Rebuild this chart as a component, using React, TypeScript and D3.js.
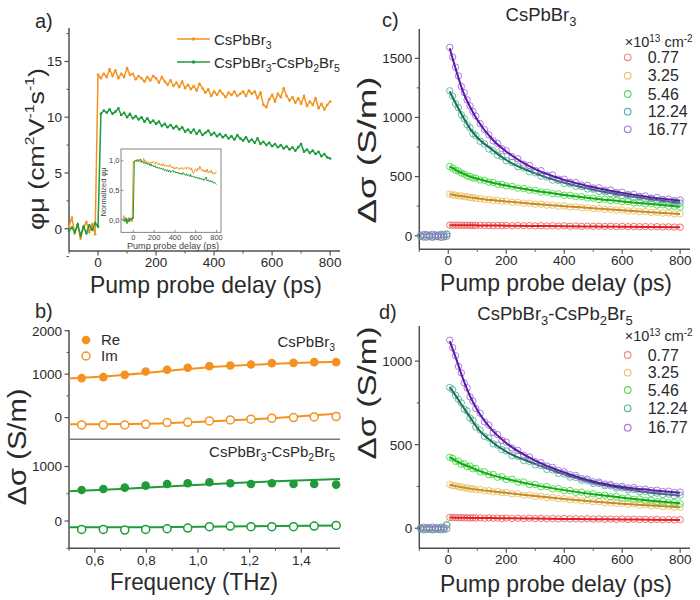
import React from "react";
import * as d3 from "d3";

const FONT = "'Liberation Sans', Arial, Helvetica, sans-serif";
const AX = "#505050";
const TXT = "#2a2a2a";

// ---------------- Panel a data ----------------
const aTimes = d3.range(-100, 801, 10);
const aOrange = [
  0.2, 1.0, -0.4, 0.3, -0.9, 0.1, 0.6, -0.3, 0.4, -0.5,
  13.8, 13.5, 13.9, 13.6, 14.3, 13.7, 14.2, 13.5, 13.9, 13.6,
  14.4, 13.8, 13.9, 13.4, 13.7, 13.5, 13.2, 13.6, 13.3, 13.7,
  13.5, 13.1, 13.6, 13.2, 12.9, 13.3, 12.8, 13.1, 12.7, 13.2,
  12.6, 12.9, 12.5, 12.8, 12.4, 13.0, 12.6, 12.2, 12.5, 11.9,
  12.3, 12.0, 12.4, 12.1, 11.8, 12.2, 12.0, 12.3, 11.9, 12.1,
  12.3, 11.9, 12.4, 12.1, 12.3, 11.7, 12.2, 11.1, 10.9, 11.6,
  12.0, 11.4, 12.1, 11.8, 12.6, 11.9, 11.5, 11.8, 11.3, 11.7,
  11.2, 11.9, 11.0, 11.4, 11.1, 11.7, 10.8, 11.2, 10.7, 11.1,
  11.4,
];
const aGreen = [
  -0.2, 0.1, -0.3, 0.4, -0.6, 0.2, -0.4, 0.3, -0.1, 0.5, 0.2,
  10.3, 10.6, 10.4, 10.7, 10.3, 10.5, 10.8, 10.2, 10.4,
  10.0, 10.3, 9.9, 10.1, 9.8, 10.0, 9.6, 9.9, 9.5, 9.7,
  9.4, 9.6, 9.2, 9.4, 9.1, 9.3, 9.0, 9.2, 8.9, 9.1,
  8.7, 8.9, 8.6, 8.9, 8.5, 8.8, 8.4, 8.6, 8.8, 8.4,
  8.6, 8.3, 8.5, 8.2, 8.4, 8.1, 8.3, 8.0, 8.4, 8.1,
  7.9, 8.2, 7.8, 8.0, 7.7, 8.1, 7.6, 7.8, 7.5, 7.7,
  7.4, 7.6, 7.3, 7.5, 7.2, 7.4, 7.1, 7.3, 7.0, 7.3,
  7.6, 6.9, 7.1, 6.8, 7.0, 6.7, 6.9, 6.5, 6.7, 6.4,
  6.3,
];
const aLegend = ["CsPbBr3", "CsPbBr3-CsPb2Br5"];

// ---------------- Panel b data ----------------
const bFreq = [0.549, 0.633, 0.716, 0.797, 0.88, 0.96, 1.044, 1.125, 1.205, 1.286, 1.37, 1.45, 1.535];
const bReBr3 = [908, 931, 984, 1060, 1100, 1146, 1184, 1198, 1221, 1253, 1260, 1276, 1276];
const bImBr3 = [-169, -169, -169, -154, -115, -108, -77, -54, -38, -15, 0, 15, 23];
const bReComp = [570, 589, 613, 650, 681, 693, 712, 693, 681, 693, 681, 681, 669];
const bImComp = [-153, -153, -166, -153, -141, -129, -104, -92, -104, -104, -104, -92, -80];
const bFitFreq = [0.5, 0.7, 0.9, 1.1, 1.3, 1.55];
const bFitReBr3 = [900, 975, 1085, 1180, 1240, 1285];
const bFitImBr3 = [-155, -150, -125, -75, -10, 95];
const bFitReComp = [545, 590, 640, 690, 730, 770];
const bFitImComp = [-115, -115, -110, -100, -92, -80];

// ---------------- Panels c, d data ----------------
const fluences = ["0.77", "3.25", "5.46", "12.24", "16.77"];
const preTimes = [-95, -85, -75, -65, -55, -45, -35, -25, -15, -5];
const postTimes = [5, 15, 25, 35, 45, 55, 65, 75, 85, 95, 110, 125, 140, 155, 170, 185,
  200, 220, 240, 260, 280, 300, 320, 340, 360, 380, 400, 420, 440, 460, 480, 500, 520, 540, 560, 580,
  600, 620, 640, 660, 680, 700, 720, 740, 760, 780, 800];
const fitTimes = [5, 25, 50, 75, 100, 150, 200, 300, 400, 500, 600, 700, 800];

const cPrePurple = [-6, 10, -12, 4, 12, -9, 6, -14, 8, -4];
const cPreOther = [5, -8, 9, -3, -10, 7, -5, 11, -7, 15];
const dPrePurple = [-4, 6, -8, 3, 7, -6, 2, -9, 5, -3];
const dPreOther = [3, -6, 5, -2, -7, 4, -4, 6, -5, 22];

const c077 = [90, 88, 90, 88, 89, 87, 89, 87, 88, 86, 88, 86, 87, 85, 87, 85,
  86, 84, 86, 84, 85, 83, 84, 82, 84, 81, 83, 80, 82, 79, 81, 79, 80, 78, 80, 77,
  79, 76, 78, 76, 77, 75, 76, 74, 75, 73, 72];
const c325 = [352, 344, 344, 336, 337, 329, 329, 322, 322, 315, 314, 306, 306, 298, 299, 291,
  292, 283, 283, 274, 274, 266, 266, 258, 258, 250, 251, 243, 244, 236, 237, 230, 230, 223, 223, 216,
  217, 210, 210, 203, 204, 197, 198, 191, 192, 185, 186];
const c546 = [586, 572, 553, 548, 530, 521, 505, 502, 488, 487, 471, 468, 453, 450, 435, 434,
  421, 417, 402, 399, 385, 383, 369, 368, 355, 354, 342, 342, 330, 330, 318, 318, 307, 308, 297, 298,
  287, 288, 277, 279, 268, 270, 259, 261, 249, 249, 240];
const c1224 = [1225, 1180, 1115, 1082, 1022, 990, 938, 912, 862, 846, 798, 776, 733, 718, 680, 668,
  634, 620, 584, 572, 540, 532, 503, 496, 470, 466, 442, 439, 418, 414, 395, 393, 374, 372, 356, 355,
  340, 338, 325, 326, 311, 312, 298, 300, 286, 288, 276];
const c1677 = [1592, 1510, 1425, 1350, 1262, 1210, 1148, 1098, 1050, 1012, 948, 897, 852, 802, 780, 735,
  718, 668, 650, 604, 594, 552, 550, 512, 514, 478, 478, 452, 450, 428, 426, 404, 405, 384, 386, 366,
  368, 349, 351, 333, 336, 319, 322, 307, 310, 297, 302];
const cFit077 = [89, 89, 88, 88, 87, 86, 85, 83, 80, 78, 76, 74, 72];
const cFit325 = [350, 342, 333, 324, 316, 301, 290, 268, 249, 232, 215, 199, 184];
const cFit546 = [584, 557, 526, 499, 481, 450, 424, 380, 345, 315, 290, 267, 244];
const cFit1224 = [1220, 1122, 1008, 905, 830, 730, 640, 527, 447, 389, 344, 308, 278];
const cFit1677 = [1585, 1415, 1225, 1090, 980, 820, 712, 562, 472, 410, 362, 324, 296];

const d077 = [65, 63, 64, 62, 64, 62, 63, 61, 63, 61, 62, 60, 62, 60, 61, 59,
  61, 59, 60, 58, 60, 58, 59, 57, 58, 56, 58, 56, 57, 55, 57, 55, 56, 54, 55, 53,
  55, 53, 54, 52, 53, 51, 53, 51, 52, 50, 51];
const d325 = [262, 255, 254, 247, 248, 241, 242, 235, 237, 230, 231, 224, 225, 218, 219, 213,
  214, 206, 206, 198, 199, 191, 191, 184, 184, 177, 177, 170, 171, 164, 165, 158, 159, 153, 154, 148,
  149, 143, 145, 138, 140, 134, 136, 129, 131, 125, 126];
const d546 = [424, 418, 400, 402, 383, 386, 368, 372, 356, 358, 338, 338, 320, 322, 305, 308,
  292, 293, 276, 277, 261, 262, 248, 250, 236, 238, 225, 226, 215, 216, 205, 206, 196, 198, 188, 190,
  180, 182, 173, 175, 166, 168, 159, 161, 153, 154, 147];
const d1224 = [842, 830, 796, 772, 750, 712, 702, 660, 645, 606, 588, 550, 540, 505, 498, 470,
  462, 434, 430, 405, 400, 380, 375, 352, 349, 328, 325, 306, 304, 287, 284, 268, 268, 254, 254, 240,
  241, 229, 231, 219, 220, 209, 210, 202, 204, 195, 197];
const d1677 = [1125, 1080, 1032, 968, 930, 870, 840, 786, 760, 716, 688, 636, 617, 574, 560, 526,
  515, 480, 466, 437, 426, 398, 392, 372, 364, 345, 338, 320, 316, 298, 294, 278, 276, 264, 262, 250,
  250, 241, 243, 233, 234, 226, 228, 220, 222, 214, 216];
const dFit077 = [64, 63, 63, 62, 62, 61, 60, 58, 56, 54, 53, 51, 50];
const dFit325 = [260, 252, 244, 237, 231, 221, 212, 193, 175, 160, 147, 136, 125];
const dFit546 = [426, 405, 383, 366, 348, 318, 296, 258, 228, 203, 183, 165, 149];
const dFit1224 = [845, 795, 728, 665, 600, 518, 458, 385, 322, 272, 238, 212, 195];
const dFit1677 = [1120, 1025, 898, 790, 708, 590, 510, 405, 334, 280, 247, 228, 213];

// styles (not data)
const circColors = ["#ec5a5e", "#e6bd5c", "#3fd83f", "#45b597", "#a163d6"];
const lineColors = ["#e0201e", "#c98a25", "#12a812", "#1e6e58", "#5a1aa6"];
const legColors = ["#ee8a8a", "#e2c681", "#66d466", "#5bb5a6", "#a77cd6"];
const ORANGE = "#f5921f";
const GREEN = "#1f9b3b";

// ---------------- helpers ----------------
function chem(s: string, fs: number) {
  const parts = s.split(/(\d+)/).filter((p) => p.length);
  const out: any[] = [];
  let shifted = false;
  parts.forEach((p, i) => {
    if (/^\d+$/.test(p)) {
      out.push(<tspan key={i} dy={fs * 0.28} fontSize={fs * 0.7}>{p}</tspan>);
      shifted = true;
    } else {
      out.push(<tspan key={i} dy={shifted ? -fs * 0.28 : 0}>{p}</tspan>);
      shifted = false;
    }
  });
  return out;
}

function LeftAxis({ scale, x, y0, y1, majors, minors, fmt, fs = 13.5, line = true }: any) {
  return (
    <g>
      {line && <line x1={x} x2={x} y1={y0} y2={y1} stroke={AX} strokeWidth={1.5} />}
      {majors.map((v: number, i: number) => (
        <line key={"M" + i} x1={x - 4.5} x2={x} y1={scale(v)} y2={scale(v)} stroke={AX} strokeWidth={1.2} />
      ))}
      {minors.map((v: number, i: number) => (
        <line key={"m" + i} x1={x - 2.5} x2={x} y1={scale(v)} y2={scale(v)} stroke={AX} strokeWidth={1} />
      ))}
      {majors.map((v: number, i: number) => (
        <text key={"t" + i} x={x - 7} y={scale(v)} dy="0.36em" textAnchor="end" fontSize={fs} fill={TXT}>
          {fmt(v)}
        </text>
      ))}
    </g>
  );
}

function BottomAxis({ scale, y, x0, x1, majors, minors, fmt, fs = 13.5, off = 16 }: any) {
  return (
    <g>
      <line x1={x0} x2={x1} y1={y} y2={y} stroke={AX} strokeWidth={1.5} />
      {majors.map((v: number, i: number) => (
        <line key={"M" + i} x1={scale(v)} x2={scale(v)} y1={y} y2={y + 4.5} stroke={AX} strokeWidth={1.2} />
      ))}
      {minors.map((v: number, i: number) => (
        <line key={"m" + i} x1={scale(v)} x2={scale(v)} y1={y} y2={y + 2.5} stroke={AX} strokeWidth={1} />
      ))}
      {majors.map((v: number, i: number) => (
        <text key={"t" + i} x={scale(v)} y={y + off} textAnchor="middle" fontSize={fs} fill={TXT}>
          {fmt(v)}
        </text>
      ))}
    </g>
  );
}

function YTitle({ cx, cy, fs, len, children }: any) {
  return (
    <text
      transform={`translate(${cx},${cy}) rotate(-90)`}
      textAnchor="middle"
      dominantBaseline="central"
      fontSize={fs}
      fill={TXT}
      textLength={len}
      lengthAdjust="spacingAndGlyphs"
    >
      {children}
    </text>
  );
}

function XTitle({ cx, y, fs, len, children }: any) {
  return (
    <text x={cx} y={y} textAnchor="middle" fontSize={fs} fill={TXT} textLength={len} lengthAdjust="spacingAndGlyphs">
      {children}
    </text>
  );
}

function DecayPanel({ xS, yS, series, fits, prePurple, preOther, keyP }: any) {
  const line = d3
    .line<number>()
    .x((_, i) => xS(fitTimes[i]))
    .y((d) => yS(d))
    .curve(d3.curveMonotoneX);
  return (
    <g>
      {series.map((s: number[], k: number) => (
        <g key={keyP + k}>
          {k >= 2 &&
            preTimes.map((t, i) => (
              <circle
                key={"p" + i}
                cx={xS(t)}
                cy={yS(k === 4 ? prePurple[i] : preOther[i] + (k === 2 ? -4 : 0))}
                r={3.2}
                fill="none"
                stroke={circColors[k]}
                strokeWidth={1}
                opacity={0.85}
              />
            ))}
          {s.map((v, i) => (
            <circle
              key={"s" + i}
              cx={xS(postTimes[i])}
              cy={yS(v)}
              r={3.2}
              fill="none"
              stroke={circColors[k]}
              strokeWidth={1}
              opacity={0.85}
            />
          ))}
          <path d={line(fits[k]) || ""} fill="none" stroke={lineColors[k]} strokeWidth={2} />
        </g>
      ))}
    </g>
  );
}

function FluenceLegend({ x, yTitle, ys }: any) {
  return (
    <g>
      <text x={x - 3} y={yTitle} fontSize={14.5} fill={TXT}>
        ×10<tspan dy={-5} fontSize={10}>13</tspan>
        <tspan dy={5}> cm</tspan>
        <tspan dy={-5} fontSize={10}>-2</tspan>
      </text>
      {fluences.map((f, i) => (
        <g key={f}>
          <circle cx={x} cy={ys[i]} r={3.3} fill="none" stroke={legColors[i]} strokeWidth={1.2} />
          <text x={x + 20} y={ys[i]} dy="0.36em" fontSize={16} fill={TXT}>
            {f}
          </text>
        </g>
      ))}
    </g>
  );
}

export default function App() {
  // ---- panel a scales
  const xA = d3.scaleLinear().domain([-100, 834]).range([69, 340]);
  const yA = d3.scaleLinear().domain([-2, 18]).range([251, 28]);
  const lineA = d3
    .line<number>()
    .x((_, i) => xA(aTimes[i]))
    .y((d) => yA(d));

  // inset
  const xI = d3.scaleLinear().domain([-118, 843]).range([121, 221]);
  const yI = d3.scaleLinear().domain([-0.21, 1.2]).range([232.3, 149]);
  const normOf = (arr: number[]) => {
    const vals = arr.filter((_, i) => aTimes[i] >= 10 && aTimes[i] <= 60);
    return d3.mean(vals) as number;
  };
  const nO = normOf(aOrange);
  const nG = normOf(aGreen);
  const lineI = (arr: number[], n: number) =>
    d3
      .line<number>()
      .x((_, i) => xI(aTimes[i]))
      .y((d) => yI(d / n))(arr) || "";

  // ---- panel b scales
  const xB = d3.scaleLinear().domain([0.5, 1.55]).range([69, 340]);
  const yBu = d3.scaleLinear().domain([-500, 2000]).range([439.3, 330.7]);
  const yBl = d3.scaleLinear().domain([-500, 1500]).range([548.3, 439.3]);
  const fitLine = (vals: number[], yS: any) =>
    d3
      .line<number>()
      .x((_, i) => xB(bFitFreq[i]))
      .y((d) => yS(d))
      .curve(d3.curveMonotoneX)(vals) || "";

  // ---- panel c/d scales
  const xC = d3.scaleLinear().domain([-100, 834]).range([419.3, 690]);
  const yC = d3.scaleLinear().domain([-115, 1745]).range([249.3, 29.3]);
  const yD = d3.scaleLinear().domain([-120, 1210]).range([548.3, 326]);

  const tFmt = (v: number) => String(v);
  const commaFmt = (v: number) => v.toFixed(1).replace(".", ",");

  return (
    <svg
      width={700}
      height={600}
      style={{ position: "absolute", left: 0, top: 0, background: "#fff", fontFamily: FONT }}
    >
      <rect x={0} y={0} width={700} height={600} fill="#fff" />

      {/* ================= Panel a ================= */}
      <text x={35} y={28} fontSize={20} fill={TXT}>a)</text>
      <LeftAxis scale={yA} x={69} y0={28} y1={251} majors={[0, 5, 10, 15]} minors={[-2.5, 2.5, 7.5, 12.5, 17.5]} fmt={tFmt} />
      <BottomAxis scale={xA} y={251} x0={69} x1={340} majors={[0, 200, 400, 600, 800]} minors={[-100, 100, 300, 500, 700]} fmt={tFmt} off={16} />
      <path d={lineA(aOrange) || ""} fill="none" stroke={ORANGE} strokeWidth={1.5} />
      {aOrange.map((v, i) => (
        <circle key={"ao" + i} cx={xA(aTimes[i])} cy={yA(v)} r={1.3} fill={ORANGE} />
      ))}
      <path d={lineA(aGreen) || ""} fill="none" stroke={GREEN} strokeWidth={1.5} />
      {aGreen.map((v, i) => (
        <circle key={"ag" + i} cx={xA(aTimes[i])} cy={yA(v)} r={1.3} fill={GREEN} />
      ))}
      {/* legend */}
      <line x1={177} x2={210} y1={39} y2={39} stroke={ORANGE} strokeWidth={1.5} />
      <circle cx={193.5} cy={39} r={1.8} fill={ORANGE} />
      <text x={214} y={44.5} fontSize={15} fill={TXT}>{chem(aLegend[0], 15)}</text>
      <line x1={177} x2={210} y1={62} y2={62} stroke={GREEN} strokeWidth={1.5} />
      <circle cx={193.5} cy={62} r={1.8} fill={GREEN} />
      <text x={214} y={67.5} fontSize={15} fill={TXT}>{chem(aLegend[1], 15)}</text>
      <YTitle cx={36} cy={149} fs={22} len={162}>
        φμ (cm<tspan dy={-7} fontSize={13}>2</tspan>
        <tspan dy={7}>V</tspan>
        <tspan dy={-7} fontSize={13}>-1</tspan>
        <tspan dy={7}>s</tspan>
        <tspan dy={-7} fontSize={13}>-1</tspan>
        <tspan dy={7}>)</tspan>
      </YTitle>
      <XTitle cx={206} y={292.5} fs={24} len={232}>Pump probe delay (ps)</XTitle>

      {/* inset */}
      <rect x={121} y={149} width={100} height={83.3} fill="#fff" stroke="#666" strokeWidth={0.8} />
      {[0, 200, 400, 600, 800].map((v) => (
        <g key={"ix" + v}>
          <line x1={xI(v)} x2={xI(v)} y1={232.3} y2={229.8} stroke="#666" strokeWidth={0.7} />
          <text x={xI(v)} y={240} textAnchor="middle" fontSize={7.5} fill="#444">{v}</text>
        </g>
      ))}
      {[0, 0.5, 1].map((v) => (
        <g key={"iy" + v}>
          <line x1={121} x2={123.5} y1={yI(v)} y2={yI(v)} stroke="#666" strokeWidth={0.7} />
          <text x={119.5} y={yI(v)} dy="0.35em" textAnchor="end" fontSize={7.5} fill="#444">{commaFmt(v)}</text>
        </g>
      ))}
      <path d={lineI(aOrange, nO)} fill="none" stroke={ORANGE} strokeWidth={1} />
      <path d={lineI(aGreen, nG)} fill="none" stroke={GREEN} strokeWidth={1} />
      <text x={173} y={249} textAnchor="middle" fontSize={8.5} fill="#444" textLength={92} lengthAdjust="spacingAndGlyphs">
        Pump probe delay (ps)
      </text>
      <text transform="translate(103.5,192) rotate(-90)" textAnchor="middle" dominantBaseline="central" fontSize={7.5} fill="#444">
        Normalized φμ
      </text>

      {/* ================= Panel b ================= */}
      <text x={35} y={318} fontSize={20} fill={TXT}>b)</text>
      <line x1={69} x2={69} y1={330} y2={548.3} stroke={AX} strokeWidth={1.5} />
      <LeftAxis scale={yBu} x={69} y0={330} y1={439} majors={[0, 1000, 2000]} minors={[500, 1500]} fmt={tFmt} line={false} />
      <LeftAxis scale={yBl} x={69} y0={439} y1={548} majors={[0, 1000]} minors={[-500, 500]} fmt={tFmt} line={false} />
      <line x1={69} x2={340} y1={439.3} y2={439.3} stroke="#7a7a7a" strokeWidth={1.5} />
      <BottomAxis scale={xB} y={548.3} x0={69} x1={340} majors={[0.6, 0.8, 1.0, 1.2, 1.4]} minors={[0.5, 0.7, 0.9, 1.1, 1.3, 1.5]} fmt={commaFmt} off={16.5} />
      <path d={fitLine(bFitReBr3, yBu)} fill="none" stroke={ORANGE} strokeWidth={2} />
      <path d={fitLine(bFitImBr3, yBu)} fill="none" stroke={ORANGE} strokeWidth={2} />
      <path d={fitLine(bFitReComp, yBl)} fill="none" stroke={GREEN} strokeWidth={2} />
      <path d={fitLine(bFitImComp, yBl)} fill="none" stroke={GREEN} strokeWidth={2} />
      {bFreq.map((f, i) => (
        <g key={"b" + i}>
          <circle cx={xB(f)} cy={yBu(bReBr3[i])} r={4.3} fill={ORANGE} />
          <circle cx={xB(f)} cy={yBu(bImBr3[i])} r={4} fill="#fff" stroke={ORANGE} strokeWidth={1.5} />
          <circle cx={xB(f)} cy={yBl(bReComp[i])} r={4.3} fill={GREEN} />
          <circle cx={xB(f)} cy={yBl(bImComp[i])} r={4} fill="#fff" stroke={GREEN} strokeWidth={1.5} />
        </g>
      ))}
      <circle cx={86} cy={340} r={4.3} fill={ORANGE} />
      <text x={101} y={345} fontSize={15} fill={TXT}>Re</text>
      <circle cx={86} cy={356} r={4} fill="#fff" stroke={ORANGE} strokeWidth={1.5} />
      <text x={101} y={361} fontSize={15} fill={TXT}>Im</text>
      <text x={335} y={347} textAnchor="end" fontSize={15} fill={TXT}>{chem(aLegend[0], 15)}</text>
      <text x={335} y={457} textAnchor="end" fontSize={15} fill={TXT}>{chem(aLegend[1], 15)}</text>
      <YTitle cx={17} cy={447} fs={25} len={117}>Δσ (S/m)</YTitle>
      <XTitle cx={194} y={590} fs={23.5} len={168}>Frequency (THz)</XTitle>

      {/* ================= Panel c ================= */}
      <text x={382} y={27} fontSize={20} fill={TXT}>c)</text>
      <text x={541} y={21} textAnchor="middle" fontSize={18.5} fill={TXT}>{chem(aLegend[0], 18.5)}</text>
      <LeftAxis scale={yC} x={419.3} y0={29} y1={249.3} majors={[0, 500, 1000, 1500]} minors={[250, 750, 1250]} fmt={tFmt} />
      <BottomAxis scale={xC} y={249.3} x0={419.3} x1={690} majors={[0, 200, 400, 600, 800]} minors={[-100, 100, 300, 500, 700]} fmt={tFmt} off={16} />
      <DecayPanel
        xS={xC}
        yS={yC}
        series={[c077, c325, c546, c1224, c1677]}
        fits={[cFit077, cFit325, cFit546, cFit1224, cFit1677]}
        prePurple={cPrePurple}
        preOther={cPreOther}
        keyP="c"
      />
      <FluenceLegend x={627.7} yTitle={47} ys={[57.3, 75.7, 94, 111.7, 129.3]} />
      <YTitle cx={367} cy={150} fs={26.5} len={147}>Δσ (S/m)</YTitle>
      <XTitle cx={556} y={290.5} fs={24} len={232}>Pump probe delay (ps)</XTitle>

      {/* ================= Panel d ================= */}
      <text x={379} y={319} fontSize={20} fill={TXT}>d)</text>
      <text x={555} y={320} textAnchor="middle" fontSize={18.5} fill={TXT}>{chem(aLegend[1], 18.5)}</text>
      <LeftAxis scale={yD} x={419.3} y0={326} y1={548.3} majors={[0, 500, 1000]} minors={[250, 750]} fmt={tFmt} />
      <BottomAxis scale={xC} y={548.3} x0={419.3} x1={690} majors={[0, 200, 400, 600, 800]} minors={[-100, 100, 300, 500, 700]} fmt={tFmt} off={16} />
      <DecayPanel
        xS={xC}
        yS={yD}
        series={[d077, d325, d546, d1224, d1677]}
        fits={[dFit077, dFit325, dFit546, dFit1224, dFit1677]}
        prePurple={dPrePurple}
        preOther={dPreOther}
        keyP="d"
      />
      <FluenceLegend x={627.7} yTitle={341} ys={[355, 372.7, 390, 408.3, 427.7]} />
      <YTitle cx={367} cy={393} fs={25.5} len={133}>Δσ (S/m)</YTitle>
      <XTitle cx={556} y={591.5} fs={24} len={232}>Pump probe delay (ps)</XTitle>
    </svg>
  );
}
